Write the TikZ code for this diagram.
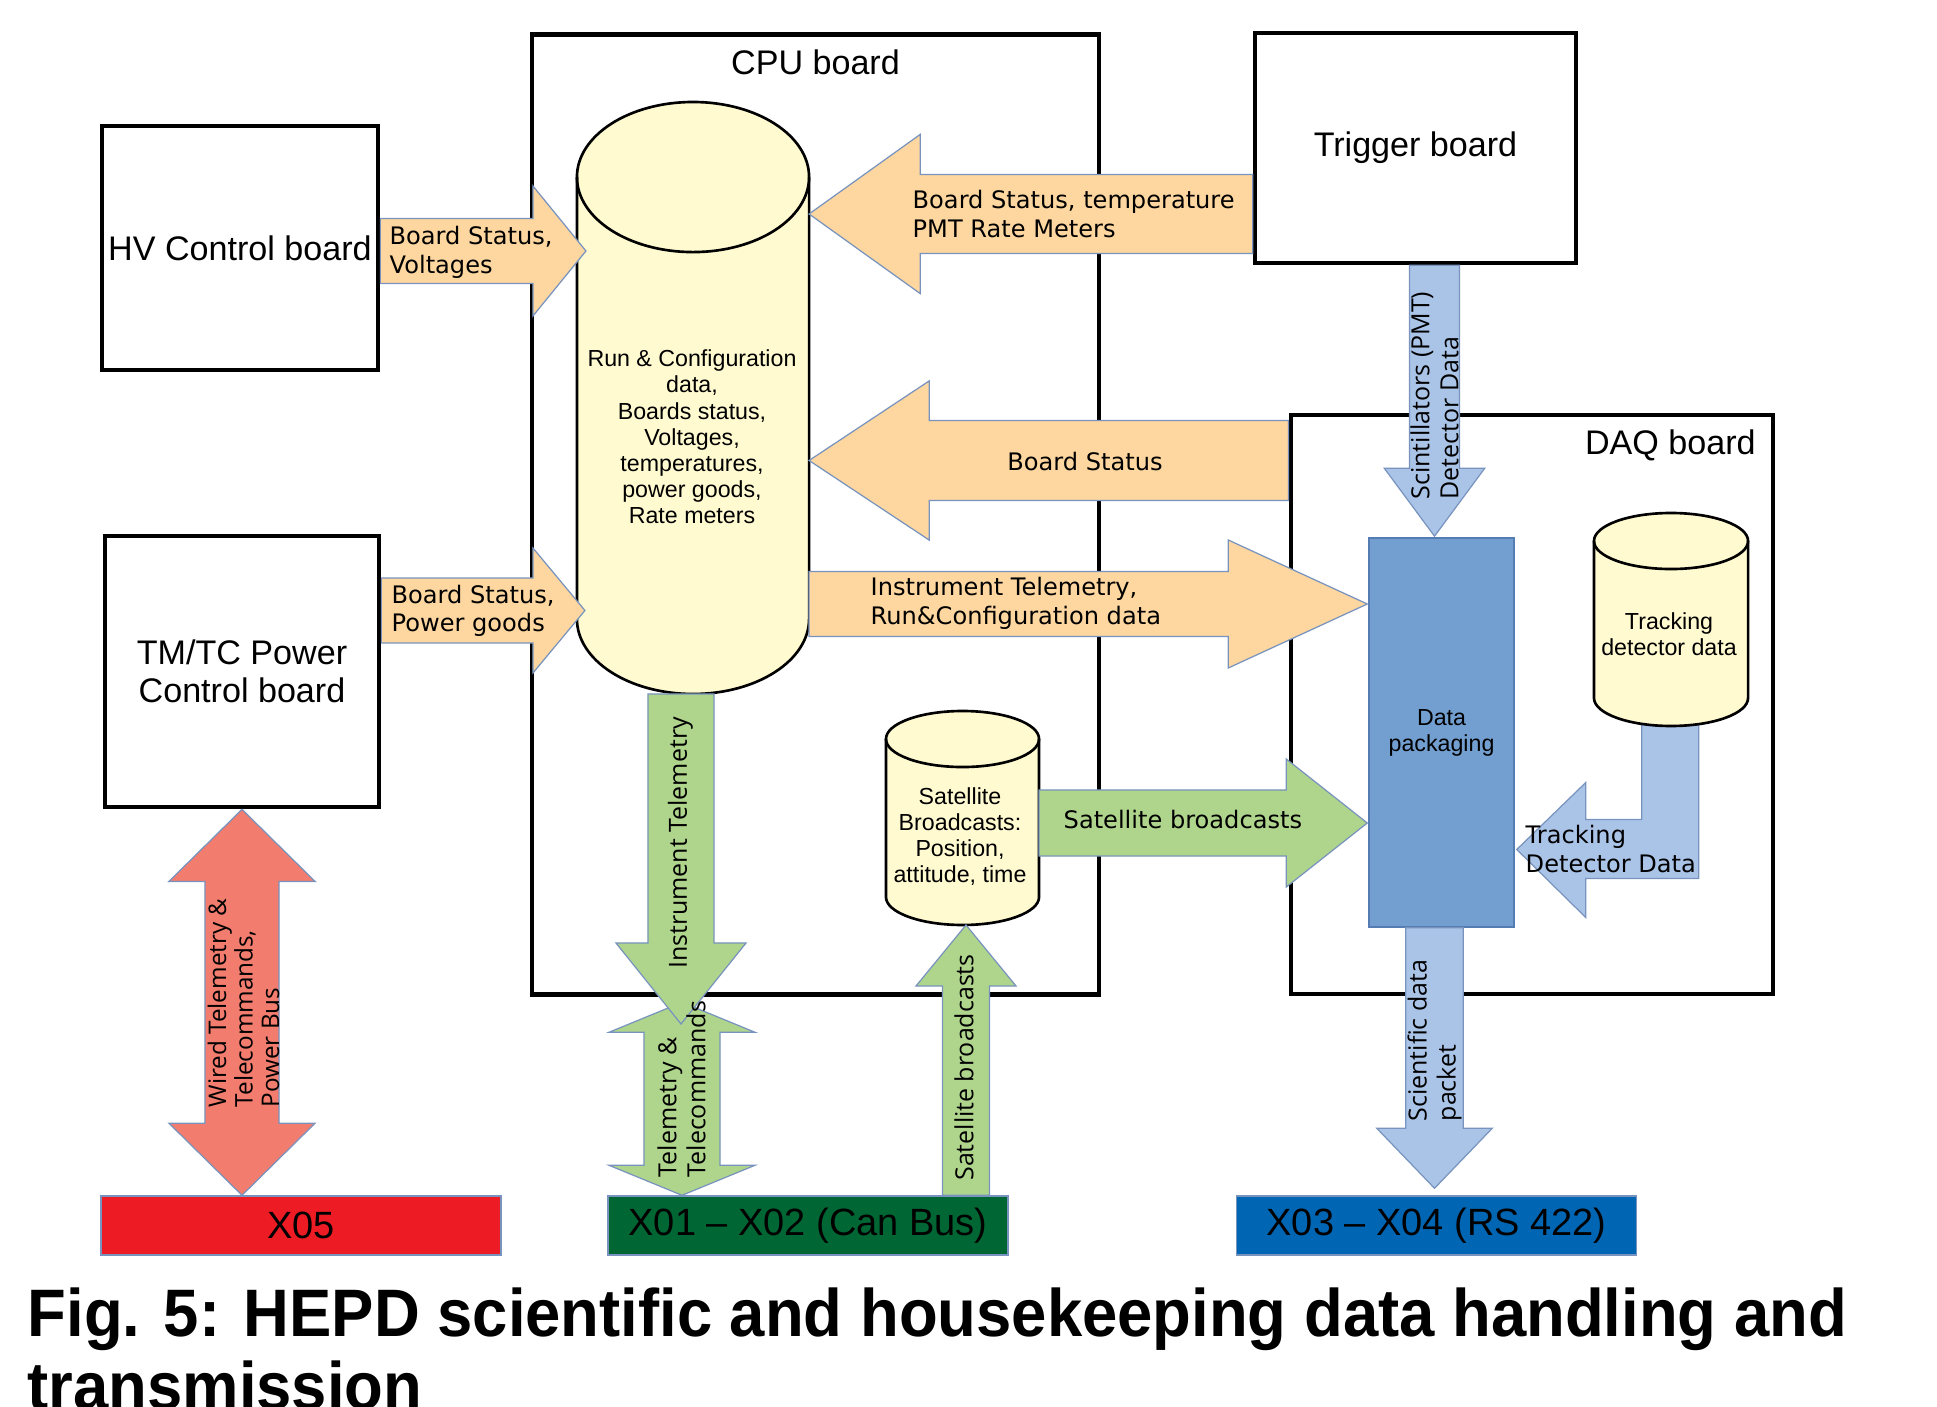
\documentclass[tikz,border=0pt]{standalone}
\usepackage{fontspec}
\setmainfont{Liberation Sans}
\newfontfamily\djv{DejaVu Sans}
\newfontfamily\osans{Open Sans}
\newfontfamily\capfont[FakeStretch=0.944]{Liberation Sans Bold}
\usepackage{tikz}
\usetikzlibrary{calc}
\usetikzlibrary{positioning}
\tikzset{>=latex}

\definecolor{arrline}{RGB}{120,148,190}
\definecolor{orangefill}{RGB}{253,214,160}
\definecolor{greenfill}{RGB}{175,213,140}
\definecolor{lbluefill}{RGB}{170,196,232}
\definecolor{packfill}{RGB}{114,159,207}
\definecolor{packline}{RGB}{85,125,180}
\definecolor{redarr}{RGB}{242,124,110}
\definecolor{drumfill}{RGB}{255,250,208}
\definecolor{xfivered}{RGB}{237,28,36}
\definecolor{xonegreen}{RGB}{0,102,51}
\definecolor{xthreeblue}{RGB}{0,102,179}

% block arrow: [style]{from}{to}{shaft half width}{head half width}{head length}
\newcommand\blockarrow[6][]{%
  \coordinate (ba-s) at (#2);
  \coordinate (ba-e) at (#3);
  \coordinate (ba-h) at ($(ba-e)!#6!(ba-s)$);
  \draw[#1] ($(ba-s)!#4!90:(ba-e)$) -- ($(ba-h)!#4!-90:(ba-s)$) -- ($(ba-h)!#5!-90:(ba-s)$) -- (ba-e)
    -- ($(ba-h)!#5!90:(ba-s)$) -- ($(ba-h)!#4!90:(ba-s)$) -- ($(ba-s)!#4!-90:(ba-e)$) -- cycle;
}
\newcommand\dblarrow[6][]{%
  \coordinate (da-s) at (#2);
  \coordinate (da-e) at (#3);
  \coordinate (da-h) at ($(da-e)!#6!(da-s)$);
  \coordinate (da-g) at ($(da-s)!#6!(da-e)$);
  \draw[#1] (da-s) -- ($(da-g)!#5!90:(da-e)$) -- ($(da-g)!#4!90:(da-e)$) -- ($(da-h)!#4!-90:(da-s)$)
    -- ($(da-h)!#5!-90:(da-s)$) -- (da-e) -- ($(da-h)!#5!90:(da-s)$) -- ($(da-h)!#4!90:(da-s)$)
    -- ($(da-g)!#4!-90:(da-e)$) -- ($(da-g)!#5!-90:(da-e)$) -- cycle;
}
% data store: {name}{centre x}{top}{bottom}{x radius}{y radius}
\newcommand\drum[6]{%
  \node[drumarea, minimum width={2*#5cm}, minimum height={(#4-#3)*0.01cm}] (#1) at (#2,{(#3+#4)/2}) {};
  \draw[drumline] ([yshift=-#6cm]#1.north west) -- ([yshift=#6cm]#1.south west)
    arc[start angle=180, end angle=360, x radius=#5cm, y radius=#6cm]
    -- ([yshift=-#6cm]#1.north east)
    arc[start angle=0, end angle=180, x radius=#5cm, y radius=#6cm] -- cycle;
  \draw[drumline, fill=none] ([yshift=-#6cm]#1.north west) arc[start angle=180, end angle=360, x radius=#5cm, y radius=#6cm];
}

\begin{document}
\begin{tikzpicture}[x=0.01cm, y=-0.01cm,
  board/.style={draw, line width=1.3pt, inner sep=0pt, align=center, font=\fontsize{9.7}{10.8}\selectfont},
  title/.style={inner sep=0pt, font=\fontsize{9.7}{10.8}\selectfont},
  xbar/.style={draw=arrline, line width=0.4pt, minimum width=4cm, minimum height=0.59cm, inner sep=0pt, font=\fontsize{10.8}{12}\selectfont},
  orangearrow/.style={fill=orangefill, draw=arrline, line width=0.35pt},
  greenarrow/.style={fill=greenfill, draw=arrline, line width=0.35pt},
  bluearrow/.style={fill=lbluefill, draw=arrline, line width=0.35pt},
  redarrow/.style={fill=redarr, draw=arrline, line width=0.35pt},
  drumarea/.style={inner sep=0pt, outer sep=0pt},
  drumline/.style={fill=drumfill, draw=black, line width=0.75pt},
  drumtext/.style={inner sep=0pt, align=center, font=\fontsize{6.6}{7.45}\selectfont},
  lbl/.style={inner sep=0pt, align=left, font=\djv\fontsize{6.85}{8.1}\selectfont},
  rotlbl/.style={inner sep=0pt, align=left, rotate=90, font=\osans\fontsize{7.1}{8.25}\selectfont}]
  \clip (0,0) rectangle (1937,1407);

  \node[board, minimum width=2.76cm, minimum height=2.44cm] (hv) at (240,248) {HV Control board};
  \node[board, minimum width=2.74cm, minimum height=2.71cm] (tmtc) at (242,671.5) {TM/TC Power\\Control board};
  \node[board, minimum width=5.67cm, minimum height=9.59cm] (cpu) at (815.5,514.5) {};
  \node[title, below=0.17cm of cpu.north] (cputitle) {CPU board};
  \node[board, minimum width=3.21cm, minimum height=2.30cm] (trigger) at (1415.5,148) {Trigger board};
  \node[board, minimum width=4.82cm, minimum height=5.79cm] (daq) at (1532,704.5) {};
  \node[title, below left=0.17cm and 0.19cm of daq.north east] (daqtitle) {DAQ board};
  \node[fill=packfill, draw=packline, line width=0.4pt, minimum width=1.45cm, minimum height=3.89cm, inner sep=0pt, align=center, font=\fontsize{6.6}{7.4}\selectfont] (pack) at (1441.5,732.5) {Data\\packaging};
  \node[xbar, fill=xfivered] (x05) at (301,1225.5) {X05};
  \node[xbar, fill=xonegreen] (x01) at (808,1225.5) {X01 – X02 (Can Bus)};
  \node[xbar, fill=xthreeblue] (x03) at (1436.5,1225.5) {X03 – X04 (RS 422)};

  \coordinate (tdtip) at ($(pack.east)+(2,117)$);
  \draw[bluearrow] (tdtip) -- ++(69,-67) -- ++(0,37) -- ++(56,0) -- ++(0,-120) -- ++(57,0) -- ++(0,179) -- ++(-113,0) -- ++(0,39) -- cycle;

  \drum{cfg}{693}{102}{694}{1.16}{0.75}
  \drum{track}{1671}{513}{726}{0.77}{0.28}
  \drum{sat}{962.5}{711}{925}{0.765}{0.28}
  \node[drumtext] (cfgtxt) at (692,437) {Run \& Configuration\\data,\\Boards status,\\Voltages,\\temperatures,\\power goods,\\Rate meters};
  \node[drumtext] (tracktxt) at (1669,634) {Tracking\\detector data};
  \node[drumtext] (sattxt) at (960,836.5) {Satellite\\Broadcasts:\\Position,\\attitude, time};

  \blockarrow[orangearrow]{$(hv.east)+(0,3)$}{$(hv.east -| cfg.west)+(9,3)$}{0.325cm}{0.65cm}{0.53cm}
  \blockarrow[orangearrow]{$(tmtc.east)+(0,-61)$}{$(tmtc.east -| cfg.west)+(8,-61)$}{0.325cm}{0.625cm}{0.52cm}
  \blockarrow[orangearrow]{$(trigger.west)+(0,66)$}{$(trigger.west -| cfg.east)+(0,66)$}{0.395cm}{0.795cm}{1.11cm}
  \blockarrow[orangearrow]{$(daq.west)+(0,-244)$}{$(daq.west -| cfg.east)+(0,-244)$}{0.40cm}{0.795cm}{1.20cm}
  \blockarrow[orangearrow]{$(cfg.east)+(0,206)$}{$(cfg.east -| pack.west)+(-1,206)$}{0.325cm}{0.64cm}{1.39cm}
  \coordinate (scin) at ($(pack.north)+(-7,-1)$);
  \blockarrow[bluearrow]{scin |- trigger.south}{scin}{0.25cm}{0.503cm}{0.68cm}
  \coordinate (sci) at ($(x03.north)+(-2,-7)$);
  \blockarrow[bluearrow]{sci |- pack.south}{sci}{0.2875cm}{0.5775cm}{0.60cm}
  \blockarrow[greenarrow]{$(sat.east)+(0,5)$}{$(sat.east -| pack.west)+(-1,5)$}{0.33cm}{0.64cm}{0.81cm}
  \coordinate (satup) at ($(x01.north)+(158,0)$);
  \blockarrow[greenarrow]{satup}{satup |- sat.south}{0.235cm}{0.50cm}{0.61cm}
  \dblarrow[redarrow]{tmtc.south}{tmtc.south |- x05.north}{0.37cm}{0.73cm}{0.72cm}
  \dblarrow[greenarrow]{$(x01.north)+(-126,-193)$}{$(x01.north)+(-126,0)$}{0.38cm}{0.73cm}{0.30cm}
  \coordinate (itm) at ($(cfg.south)+(-12,330)$);
  \blockarrow[greenarrow]{itm |- cfg.south}{itm}{0.33cm}{0.65cm}{0.81cm}

  \node[lbl, anchor=west] (hvlbl) at (389,252.5) {Board Status,\\Voltages};
  \node[lbl, anchor=west] (tmtclbl) at (391,611) {Board Status,\\Power goods};
  \node[lbl, anchor=west] (triglbl) at (912,214) {Board Status, temperature\\PMT Rate Meters};
  \node[lbl] (daqlbl) at (1085,462) {Board Status};
  \node[lbl, anchor=west] (itlbl) at (870,603.5) {Instrument Telemetry,\\Run\&Configuration data};
  \node[lbl, anchor=west] (satlbl) at (1063,820) {Satellite broadcasts};
  \node[lbl, anchor=west] (tdlbl) at (1525,849) {Tracking\\Detector Data};
  \node[rotlbl, anchor=west] (scinlbl) at (1434.5,500) {Scintillators (PMT)\\Detector Data};
  \node[rotlbl, anchor=west] (scilbl) at (1434.5,1122) {Scientific data\\packet};
  \node[rotlbl] (itmlbl) at (680.5,843) {Instrument Telemetry};
  \node[rotlbl] (satuplbl) at (964,1067.5) {Satellite broadcasts};
  \node[rotlbl, anchor=west, font=\osans\fontsize{6.9}{7.55}\selectfont] (wiredlbl) at (243.5,1108) {Wired Telemetry \&\\Telecommands,\\Power Bus};
  \node[rotlbl, anchor=west] (tclbl) at (681.5,1178) {Telemetry \&\\Telecommands};

  \node[anchor=base west, inner sep=0pt, font=\capfont\fontsize{19.1}{22}\selectfont] (caption) at (27,1336) {Fig. 5: HEPD scientific and housekeeping data handling and};
  \node[anchor=base west, inner sep=0pt, font=\capfont\fontsize{19.1}{22}\selectfont] (captail) at (27,1409) {transmission};
\end{tikzpicture}
\end{document}
